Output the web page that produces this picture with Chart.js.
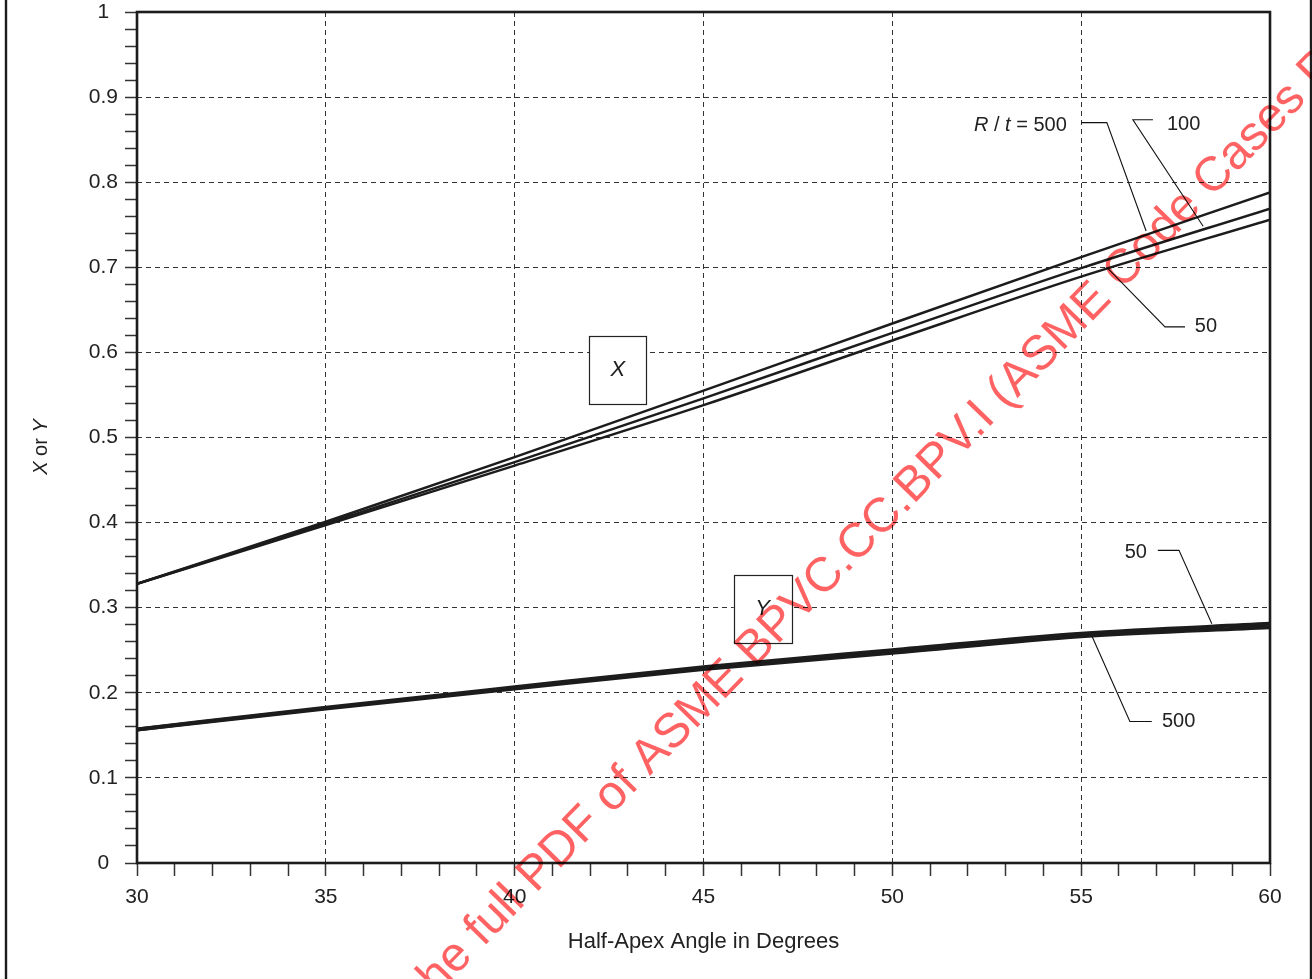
<!DOCTYPE html>
<html><head><meta charset="utf-8">
<script src="https://cdn.jsdelivr.net/npm/chart.js@4.4.1/dist/chart.umd.min.js"></script>
<style>html,body{margin:0;padding:0;background:#fff;}canvas{display:block;}</style>
</head><body>
<canvas id="c" width="1312" height="979"></canvas>
<script>
// ---- data ----
const angles = [30, 35, 40, 45, 50, 55, 60];
const xRt500 = [0.328, 0.401, 0.477, 0.555, 0.634, 0.712, 0.788];
const xRt100 = [0.328, 0.399, 0.471, 0.546, 0.623, 0.699, 0.769];
const xRt50  = [0.328, 0.397, 0.467, 0.538, 0.614, 0.689, 0.756];
const yRt50  = [0.157, 0.1825, 0.2065, 0.230, 0.250, 0.2695, 0.281];
const yRt500 = [0.157, 0.1815, 0.205, 0.228, 0.247, 0.2665, 0.277];
const xTickLabels = ['30', '35', '40', '45', '50', '55', '60'];
const yTickLabels = ['0', '0.1', '0.2', '0.3', '0.4', '0.5', '0.6', '0.7', '0.8', '0.9', '1'];
const xTitle = 'Half-Apex Angle in Degrees';
const yTitle = [{t: 'X', i: true}, {t: ' or '}, {t: 'Y', i: true}];
const watermark = 'he full PDF of ASME BPVC.CC.BPV.I (ASME Code Cases P';

// annotation boxes and callouts, in data coordinates
const boxes = [
  {label: 'X', x0: 41.97, x1: 43.49, y0: 0.5396, y1: 0.619},
  {label: 'Y', x0: 45.80, x1: 47.33, y0: 0.2588, y1: 0.3385}
];
const callouts = [
  {text: [{t: 'R', i: true}, {t: ' / '}, {t: 't', i: true}, {t: ' = 500'}], tx: 54.62, ty: 0.867, align: 'right',
   path: [[55.01, 0.870], [55.68, 0.870], [56.72, 0.7427]]},
  {text: [{t: '100'}], tx: 57.27, ty: 0.868, align: 'left',
   path: [[56.90, 0.8733], [56.37, 0.8733], [58.23, 0.7482]]},
  {text: [{t: '50'}], tx: 58.01, ty: 0.6306, align: 'left',
   path: [[55.68, 0.700], [57.22, 0.630], [57.75, 0.630]]},
  {text: [{t: '50'}], tx: 56.74, ty: 0.3647, align: 'right',
   path: [[57.03, 0.3674], [57.59, 0.3674], [58.46, 0.2812]]},
  {text: [{t: '500'}], tx: 57.14, ty: 0.1662, align: 'left',
   path: [[55.29, 0.2662], [56.29, 0.1662], [56.87, 0.1662]]}
];

const FONT = '"Liberation Sans", Arial, Helvetica, sans-serif';
const INK = '#1c1c1c';

function pts(ys) { return angles.map((a, i) => ({x: a, y: ys[i]})); }
function isMajorY(v) { return Math.abs(v * 10 - Math.round(v * 10)) < 1e-6; }

function drawRich(ctx, parts, x, y, size, align) {
  const widths = parts.map(p => { ctx.font = (p.i ? 'italic ' : '') + size + 'px ' + FONT; return ctx.measureText(p.t).width; });
  const total = widths.reduce((a, b) => a + b, 0);
  let sx = align === 'right' ? x - total : (align === 'center' ? x - total / 2 : x);
  ctx.textAlign = 'left';
  ctx.textBaseline = 'middle';
  parts.forEach((p, i) => {
    ctx.font = (p.i ? 'italic ' : '') + size + 'px ' + FONT;
    ctx.fillText(p.t, sx, y);
    sx += widths[i];
  });
}

const decor = {
  id: 'decor',
  beforeDraw(chart) {
    const ctx = chart.ctx;
    ctx.save();
    ctx.fillStyle = '#fff';
    ctx.fillRect(0, 0, chart.width, chart.height);
    ctx.restore();
  },
  beforeDatasetsDraw(chart) {
    const ctx = chart.ctx, sx = chart.scales.x, sy = chart.scales.y;
    ctx.save();
    boxes.forEach(b => {
      const l = sx.getPixelForValue(b.x0), r = sx.getPixelForValue(b.x1);
      const t = sy.getPixelForValue(b.y1), btm = sy.getPixelForValue(b.y0);
      ctx.fillStyle = '#fff';
      ctx.fillRect(l, t, r - l, btm - t);
      ctx.strokeStyle = '#222';
      ctx.lineWidth = 1.2;
      ctx.strokeRect(Math.round(l) + 0.5, Math.round(t) + 0.5, Math.round(r - l), Math.round(btm - t));
      ctx.fillStyle = INK;
      drawRich(ctx, [{t: b.label, i: true}], (l + r) / 2, (t + btm) / 2, 22, 'center');
    });
    ctx.restore();
  },
  afterDatasetsDraw(chart) {
    const ctx = chart.ctx, a = chart.chartArea, sx = chart.scales.x, sy = chart.scales.y;
    ctx.save();
    // plot frame
    ctx.strokeStyle = INK;
    ctx.lineWidth = 2.6;
    ctx.strokeRect(a.left, a.top, a.right - a.left, a.bottom - a.top);
    // callouts
    ctx.lineWidth = 1.1;
    ctx.strokeStyle = '#111';
    callouts.forEach(c => {
      ctx.beginPath();
      c.path.forEach((p, i) => {
        const X = sx.getPixelForValue(p[0]), Y = sy.getPixelForValue(p[1]);
        if (i === 0) ctx.moveTo(X, Y); else ctx.lineTo(X, Y);
      });
      ctx.stroke();
      ctx.fillStyle = '#222';
      drawRich(ctx, c.text, sx.getPixelForValue(c.tx), sy.getPixelForValue(c.ty), 20, c.align);
    });
    ctx.restore();
  },
  afterDraw(chart) {
    const ctx = chart.ctx, a = chart.chartArea;
    ctx.save();
    // outer page rules
    ctx.strokeStyle = INK;
    ctx.lineWidth = 2.4;
    ctx.beginPath();
    ctx.moveTo(6, 0); ctx.lineTo(6, chart.height);
    ctx.moveTo(1311, 0); ctx.lineTo(1311, chart.height);
    ctx.stroke();
    // axis titles
    ctx.fillStyle = '#222';
    drawRich(ctx, [{t: xTitle}], (a.left + a.right) / 2, 942, 22, 'center');
    ctx.save();
    ctx.translate(41, 447);
    ctx.rotate(-Math.PI / 2);
    drawRich(ctx, yTitle, 0, 0, 20, 'center');
    ctx.restore();
    // watermark (anchored at the start of its last glyph, top right)
    ctx.globalCompositeOperation = 'multiply';
    ctx.fillStyle = 'rgb(255,98,98)';
    ctx.font = '48.3px ' + FONT;
    const ang = 45.8 * Math.PI / 180;
    const ux = Math.cos(ang), uy = -Math.sin(ang);
    const W = ctx.measureText(watermark.slice(0, -1)).width;
    const px = 1316.6, py = 90.4;
    ctx.translate(px - W * ux, py - W * uy);
    ctx.rotate(-ang);
    ctx.textAlign = 'left';
    ctx.textBaseline = 'alphabetic';
    ctx.fillText(watermark, 0, 0);
    ctx.restore();
  }
};

const lineDs = (label, ys, w) => ({
  label, data: pts(ys), borderColor: INK, borderWidth: w, pointRadius: 0,
  fill: false, cubicInterpolationMode: 'monotone'
});

new Chart(document.getElementById('c'), {
  type: 'line',
  data: {
    datasets: [
      lineDs('X, R/t = 500', xRt500, 2.5),
      lineDs('X, R/t = 100', xRt100, 2.5),
      lineDs('X, R/t = 50', xRt50, 2.5),
      lineDs('Y, R/t = 50', yRt50, 4),
      lineDs('Y, R/t = 500', yRt500, 4)
    ]
  },
  options: {
    responsive: false,
    animation: false,
    devicePixelRatio: 1,
    layout: {padding: {top: 12, right: 42, left: 0, bottom: 0}},
    plugins: {legend: {display: false}, tooltip: {enabled: false}},
    scales: {
      x: {
        type: 'linear', min: 30, max: 60,
        afterFit(s) { s.height = 116; s.paddingLeft = 0; s.paddingRight = 0; },
        ticks: {
          stepSize: 1, autoSkip: false, maxRotation: 0, minRotation: 0, padding: 11,
          color: '#222', font: {family: FONT, size: 21, lineHeight: 1},
          callback: v => (v % 5 === 0 ? xTickLabels[(v - 30) / 5] : '')
        },
        grid: {
          color: c => (c.tick && c.tick.value % 5 === 0 && c.tick.value > 30 && c.tick.value < 60) ? '#333' : 'rgba(0,0,0,0)',
          lineWidth: 1, tickLength: 13, tickColor: '#333', tickWidth: 1.5, drawTicks: true
        },
        border: {display: false, dash: [5, 4]}
      },
      y: {
        type: 'linear', min: 0, max: 1,
        afterFit(s) { s.width = 137; s.paddingTop = 0; s.paddingBottom = 0; },
        ticks: {
          stepSize: 0.02, autoSkip: false, padding: 7, crossAlign: 'center',
          color: '#222', font: {family: FONT, size: 21, lineHeight: 1},
          callback: v => (isMajorY(v) ? yTickLabels[Math.round(v * 10)] : '')
        },
        grid: {
          color: c => (c.tick && isMajorY(c.tick.value) && c.tick.value > 0.001 && c.tick.value < 0.999) ? '#333' : 'rgba(0,0,0,0)',
          lineWidth: 1, tickLength: 12, tickColor: '#333', tickWidth: 1.5, drawTicks: true
        },
        border: {display: false, dash: [5, 4]}
      }
    }
  },
  plugins: [decor]
});
</script>
</body></html>
